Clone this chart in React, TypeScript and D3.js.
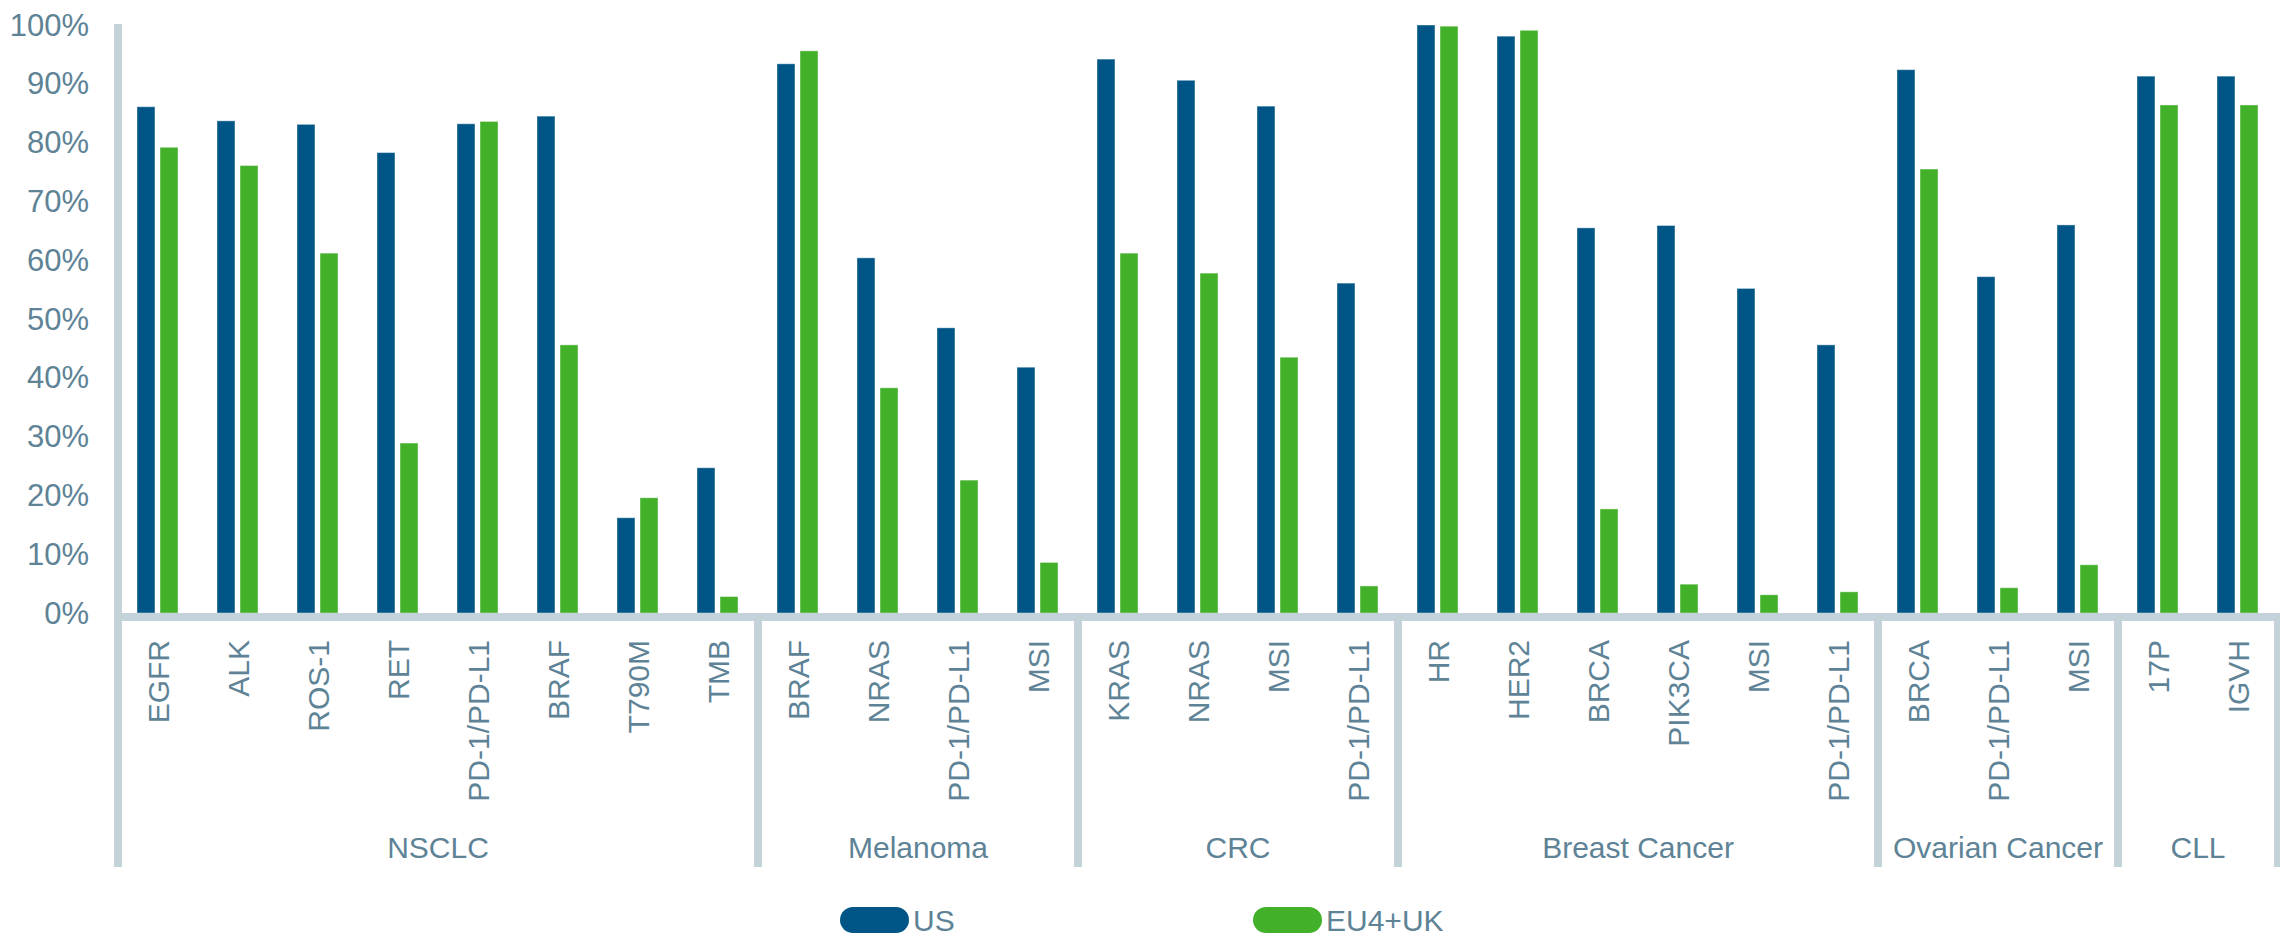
import React from "react";
import * as d3 from "d3";

// Biomarker testing rates by tumour type, US vs EU4+UK
const groups = ["NSCLC", "Melanoma", "CRC", "Breast Cancer", "Ovarian Cancer", "CLL"];
const groupSizes = [8, 4, 4, 6, 3, 2];
const categories = [
  "EGFR", "ALK", "ROS-1", "RET", "PD-1/PD-L1", "BRAF", "T790M", "TMB",
  "BRAF", "NRAS", "PD-1/PD-L1", "MSI",
  "KRAS", "NRAS", "MSI", "PD-1/PD-L1",
  "HR", "HER2", "BRCA", "PIK3CA", "MSI", "PD-1/PD-L1",
  "BRCA", "PD-1/PD-L1", "MSI",
  "17P", "IGVH",
];
const usValues = [
  86.1, 83.7, 83.1, 78.3, 83.2, 84.5, 16.2, 24.7,
  93.4, 60.4, 48.5, 41.8,
  94.2, 90.6, 86.2, 56.1,
  100, 98.1, 65.5, 65.9, 55.2, 45.6,
  92.4, 57.2, 66.0,
  91.3, 91.3,
];
const euValues = [
  79.2, 76.1, 61.2, 28.9, 83.6, 45.6, 19.6, 2.8,
  95.6, 38.3, 22.6, 8.6,
  61.2, 57.8, 43.5, 4.6,
  99.8, 99.1, 17.7, 4.9, 3.1, 3.6,
  75.5, 4.3, 8.2,
  86.4, 86.4,
];
const series = ["US", "EU4+UK"];
const seriesColors = ["#005587", "#43b02a"];
const yTicks = [0, 10, 20, 30, 40, 50, 60, 70, 80, 90, 100];

const W = 2280;
const H = 937;
const left = 118;
const right = 2278;
const yTop = 25;
const yBase = 613;
const axisY = 617;
const groupBottom = 867;
const textColor = "#5e8396";
const lineColor = "#c4d3da";
const font = "'Liberation Sans', Arial, sans-serif";

export default function App() {
  const idx = categories.map((_, i) => String(i));
  const x = d3.scaleBand<string>().domain(idx).range([left, right]);
  const xs = d3.scaleBand<string>().domain(series).range([19, 60]).paddingInner(0.22);
  const y = d3.scaleLinear().domain([0, 100]).range([yBase, yTop]);
  const step = x.step();

  // group boundaries along the category axis
  const bounds: number[] = [0];
  groupSizes.forEach((n, i) => bounds.push(bounds[i] + n));

  const valuesBySeries = [usValues, euValues];

  return (
    <svg
      width={W}
      height={H}
      style={{ position: "absolute", left: 0, top: 0, background: "#fff" }}
      fontFamily={font}
    >
      {/* y tick labels */}
      {yTicks.map((t) => (
        <text
          key={t}
          x={89}
          y={y(t)}
          textAnchor="end"
          dominantBaseline="central"
          fontSize={31}
          fill={textColor}
        >
          {t}%
        </text>
      ))}

      {/* bars */}
      {categories.map((c, i) =>
        series.map((s, k) => {
          const v = valuesBySeries[k][i];
          const bx = (x(String(i)) as number) + (xs(s) as number);
          return (
            <rect
              key={`${i}-${s}`}
              x={bx}
              y={y(v)}
              width={xs.bandwidth()}
              height={yBase - y(v)}
              fill={seriesColors[k]}
              stroke="#ffffff"
              strokeOpacity={0.4}
              strokeWidth={1}
            />
          );
        })
      )}

      {/* axis lines */}
      <line x1={left} x2={left} y1={24} y2={groupBottom} stroke={lineColor} strokeWidth={8} />
      <line x1={left - 4} x2={W} y1={axisY} y2={axisY} stroke={lineColor} strokeWidth={8} />
      {bounds.slice(1).map((b, i) => {
        const bx = left + b * step;
        return (
          <line
            key={i}
            x1={bx}
            x2={bx}
            y1={axisY}
            y2={groupBottom}
            stroke={lineColor}
            strokeWidth={8}
          />
        );
      })}

      {/* category labels */}
      {categories.map((c, i) => {
        const cx = (x(String(i)) as number) + step / 2;
        return (
          <text
            key={`l${i}`}
            transform={`translate(${cx},640) rotate(-90)`}
            textAnchor="end"
            dominantBaseline="central"
            fontSize={30}
            fill={textColor}
          >
            {c}
          </text>
        );
      })}

      {/* group labels */}
      {groups.map((g, i) => {
        const gx = left + ((bounds[i] + bounds[i + 1]) / 2) * step;
        return (
          <text key={g} x={gx} y={858} textAnchor="middle" fontSize={30} fill={textColor}>
            {g}
          </text>
        );
      })}

      {/* legend */}
      {series.map((s, k) => {
        const lx = [840, 1253][k];
        return (
          <g key={s}>
            <rect x={lx} y={907} width={69} height={26} rx={13} fill={seriesColors[k]} />
            <text x={lx + 73} y={931} fontSize={30} fill={textColor}>
              {s}
            </text>
          </g>
        );
      })}
    </svg>
  );
}
